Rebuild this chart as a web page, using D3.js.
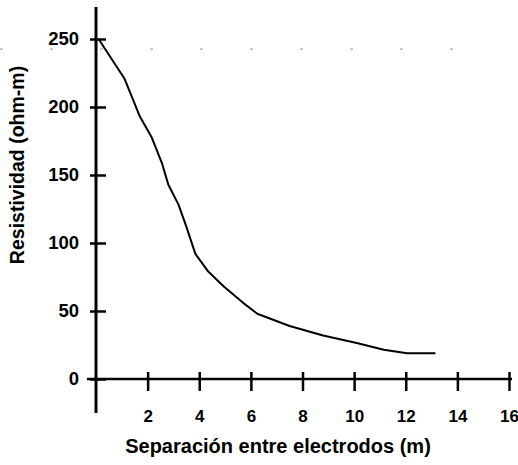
<!DOCTYPE html>
<html>
<head>
<meta charset="utf-8">
<script src="https://cdn.jsdelivr.net/npm/d3@7"></script>
<style>
  body { margin: 0; background: #fff; }
  svg { display: block; font-family: "Liberation Sans", Arial, sans-serif; font-weight: bold; }
</style>
</head>
<body>
<main></main>
<script>
// data
const separation = [0.1, 1.1, 1.7, 2.15, 2.55, 2.8, 3.2, 3.5, 3.85, 4.35, 4.95, 5.7, 6.25, 7.5, 8.8, 10.1, 11.15, 12.05, 13.15];
const resistivity = [250, 221, 193, 178, 159, 143, 128, 112, 92, 79, 68, 56, 48, 39, 32, 26.5, 21.5, 19, 19];
const xTicks = [2, 4, 6, 8, 10, 12, 14, 16];
const yTicks = [0, 50, 100, 150, 200, 250];
const faintLine = 242.5; // faint dotted line left by the scan

const width = 518;
const height = 465;

const svg = d3.select('main')
  .append('svg')
  .attr('width', width)
  .attr('height', height);

// scales
const xScale = d3.scaleLinear().domain([0, 16]).range([96, 509]);
const yScale = d3.scaleLinear().domain([0, 250]).range([379, 39]);

// faint dotted line near the top
svg.append('line')
  .attr('x1', 0)
  .attr('x2', 495)
  .attr('y1', yScale(faintLine))
  .attr('y2', yScale(faintLine))
  .attr('stroke', '#aaa')
  .attr('stroke-width', 1.2)
  .attr('stroke-dasharray', '3,47');

// axis lines drawn by hand so they can run past the ticks
svg.append('line')
  .attr('x1', xScale(0)).attr('x2', xScale(0))
  .attr('y1', 7).attr('y2', 413)
  .attr('stroke', '#000').attr('stroke-width', 3);

svg.append('line')
  .attr('x1', 87).attr('x2', 512)
  .attr('y1', yScale(0)).attr('y2', yScale(0))
  .attr('stroke', '#000').attr('stroke-width', 2.5);

// y axis
const yAxis = d3.axisLeft(yScale)
  .tickValues(yTicks)
  .tickSize(6)
  .tickPadding(11);

const gy = svg.append('g')
  .attr('transform', `translate(${xScale(0)},0)`)
  .call(yAxis);
gy.select('.domain').remove();
gy.selectAll('.tick line').attr('x1', 10).attr('stroke-width', 2.5);
gy.selectAll('.tick text')
  .attr('font-size', 18.5)
  .attr('font-family', '"Liberation Sans", Arial, sans-serif')
  .attr('font-weight', 'bold')
  .attr('fill', '#000');

// x axis
const xAxis = d3.axisBottom(xScale)
  .tickValues(xTicks)
  .tickSize(12)
  .tickPadding(19);

const gx = svg.append('g')
  .attr('transform', `translate(0,${yScale(0)})`)
  .call(xAxis);
gx.select('.domain').remove();
gx.selectAll('.tick line').attr('y1', -7).attr('stroke-width', 2.5);
gx.selectAll('.tick text')
  .attr('font-size', 17)
  .attr('font-family', '"Liberation Sans", Arial, sans-serif')
  .attr('font-weight', 'bold')
  .attr('fill', '#000');

// the curve
const points = separation.map((s, i) => [s, resistivity[i]]);
const line = d3.line()
  .x(d => xScale(d[0]))
  .y(d => yScale(d[1]));

svg.append('path')
  .datum(points)
  .attr('d', line)
  .attr('fill', 'none')
  .attr('stroke', '#000')
  .attr('stroke-width', 2)
  .attr('stroke-linejoin', 'round');

// axis titles
svg.append('text')
  .text('Separación entre electrodos (m)')
  .attr('x', 278)
  .attr('y', 453)
  .attr('text-anchor', 'middle')
  .attr('font-size', 20);

svg.append('text')
  .text('Resistividad (ohm-m)')
  .attr('transform', 'translate(24,165) rotate(-90)')
  .attr('text-anchor', 'middle')
  .attr('font-size', 19.5);
</script>
</body>
</html>
